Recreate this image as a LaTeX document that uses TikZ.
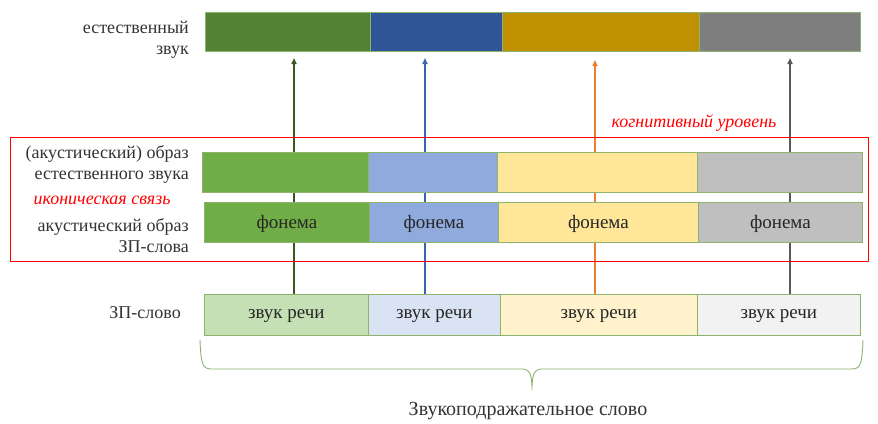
\documentclass[tikz,border=0pt]{standalone}
\usepackage{fontspec}
\setmainfont{Liberation Serif}
\usetikzlibrary{arrows.meta, positioning, backgrounds}
\definecolor{natgreen}{HTML}{548235}
\definecolor{natblue}{HTML}{2F5597}
\definecolor{natgold}{HTML}{BF9000}
\definecolor{natgray}{HTML}{7F7F7F}
\definecolor{imggreen}{HTML}{70AD47}
\definecolor{imgblue}{HTML}{8FAADC}
\definecolor{imgyellow}{HTML}{FFE699}
\definecolor{imggray}{HTML}{BFBFBF}
\definecolor{zpgreen}{HTML}{C5E0B4}
\definecolor{zpblue}{HTML}{DAE3F3}
\definecolor{zpyellow}{HTML}{FFF2CC}
\definecolor{zpgray}{HTML}{F2F2F2}
\definecolor{segline}{HTML}{8DB36F}
\definecolor{arrgreen}{HTML}{385723}
\definecolor{arrblue}{HTML}{3A64B0}
\definecolor{arrorange}{HTML}{ED7D31}
\definecolor{arrgray}{HTML}{595959}
\tikzset{
  segnode/.style={draw=segline, line width=0.8pt, inner sep=0pt, minimum height=40pt, anchor=north west, font=\fontsize{19}{22}\selectfont, text=black!85, text depth=1pt},
  sidelabel/.style={anchor=east, align=right, inner sep=0pt, font=\fontsize{18}{21}\selectfont, text=black!80},
  notelabel/.style={text=red, inner sep=0pt, font=\fontsize{18}{21}\selectfont\itshape},
  levelline/.style={-{Triangle[length=6pt,width=5pt]}, line width=1.6pt},
  cogframe/.style={draw=red, line width=1pt, inner sep=0pt, anchor=north west},
  braceline/.style={draw=segline, line width=0.9pt}
}

\begin{document}
\begin{tikzpicture}[x=1pt, y=-1pt]
  \useasboundingbox (0,0) rectangle (878,423);

  % natural sound
  \node[segnode, fill=natgreen, minimum width=165pt, minimum height=39pt] (nat1) at (205,12) {};
  \node[segnode, fill=natblue, minimum width=132pt, minimum height=39pt] (nat2) at (370,12) {};
  \node[segnode, fill=natgold, minimum width=197pt, minimum height=39pt] (nat3) at (502,12) {};
  \node[segnode, fill=natgray, minimum width=161pt, minimum height=39pt] (nat4) at (699,12) {};
  \node[sidelabel] (natlabel) at (189,40) {естественный\\звук};

  % cognitive level
  \node[cogframe, minimum width=858pt, minimum height=124pt] (cog) at (10,137) {};
  \node[notelabel] (coglabel) at (694,123) {когнитивный уровень};

  \node[segnode, fill=imggreen, minimum width=166pt] (img1) at (202,152) {};
  \node[segnode, fill=imgblue, minimum width=129pt] (img2) at (368,152) {};
  \node[segnode, fill=imgyellow, minimum width=200pt] (img3) at (497,152) {};
  \node[segnode, fill=imggray, minimum width=165pt] (img4) at (697,152) {};
  \node[sidelabel] (imglabel) at (189,164) {(акустический) образ\\естественного звука};

  \node[notelabel] (iconlabel) at (102,200) {иконическая связь};

  \node[segnode, fill=imggreen, minimum width=165pt] (ph1) at (204,202) {фонема};
  \node[segnode, fill=imgblue, minimum width=129pt] (ph2) at (369,202) {фонема};
  \node[segnode, fill=imgyellow, minimum width=200pt] (ph3) at (498,202) {фонема};
  \node[segnode, fill=imggray, minimum width=164pt] (ph4) at (698,202) {фонема};
  \node[sidelabel] (phlabel) at (189,236) {акустический образ\\ЗП-слова};

  % onomatopoeic word
  \node[segnode, fill=zpgreen, minimum width=164pt, minimum height=41pt] (zp1) at (204,294) {звук речи};
  \node[segnode, fill=zpblue, minimum width=132pt, minimum height=41pt] (zp2) at (368,294) {звук речи};
  \node[segnode, fill=zpyellow, minimum width=197pt, minimum height=41pt] (zp3) at (500,294) {звук речи};
  \node[segnode, fill=zpgray, minimum width=163pt, minimum height=41pt] (zp4) at (697,294) {звук речи};
  \node[sidelabel] (zplabel) at (181,313) {ЗП-слово};

  % arrows up to the natural sound
  \coordinate (t1) at (294,58);
  \coordinate (t2) at (425,58);
  \coordinate (t3) at (595,60);
  \coordinate (t4) at (790,58);
  \begin{pgfonlayer}{background}
    \draw[levelline, color=arrgreen] (zp1.north -| t1) -- (t1);
    \draw[levelline, color=arrblue] (zp2.north -| t2) -- (t2);
    \draw[levelline, color=arrorange] (zp3.north -| t3) -- (t3);
    \draw[levelline, color=arrgray] (zp4.north -| t4) -- (t4);
  \end{pgfonlayer}

  % brace
  \draw[braceline] (200,340) .. controls (201,366) and (203,369) .. (212,369)
    -- (522,369) .. controls (530,369) and (532,375) .. (532,390)
    .. controls (532,375) and (534,369) .. (542,369)
    -- (851,369) .. controls (860,369) and (862,366) .. (863,340);
  \node[inner sep=0pt, font=\fontsize{20}{23}\selectfont, text=black!80] (wordlabel) at (528,411) {Звукоподражательное слово};
\end{tikzpicture}
\end{document}
